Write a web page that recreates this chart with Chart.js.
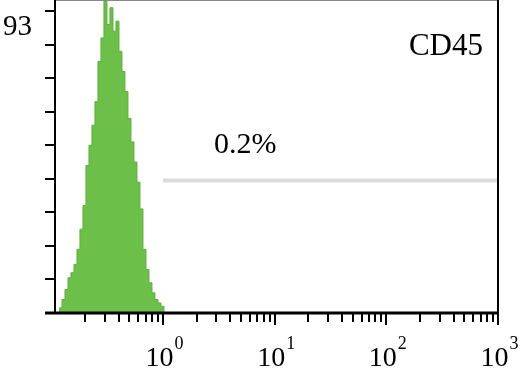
<!DOCTYPE html>
<html>
<head>
<meta charset="utf-8">
<script src="https://cdn.jsdelivr.net/npm/chart.js@4"></script>
<style>
html,body{margin:0;padding:0;background:#fff;}
canvas{display:block;}
</style>
</head>
<body>
<canvas id="c" width="521" height="379"></canvas>
<script>
// Histogram channels (fluorescence intensity, bin start) and counts
const channels = [0.1172,0.1247,0.1327,0.1412,0.1501,0.1597,0.1699,0.1807,0.1922,0.2045,0.2176,0.2314,0.2462,0.2619,0.2786,0.2964,0.3153,0.3354,0.3568,0.3796,0.4038,0.4296,0.4570,0.4861,0.5171,0.5501,0.5852,0.6225,0.6622,0.7045,0.7494,0.7972,0.8481,0.9022,0.9597,1.021];
const counts   = [1.5,4,7,10.5,12,14.5,19,25,32,44,50,56,63,75,82,93,86,91,84,87,78,72,66,58,51,45,39,31,19,13,9,6,4,3,2,0];
// Gate marker (positive region) and its percentage
const gateRange = [1, 1000];
const gateLevel = 39.5;
const gateLabel = "0.2%";
const markerName = "CD45";
const yMax = 93;
const yTicks = [0,10,20,30,40,50,60,70,80,90];
const xMajor = [1,10,100,1000];
const xMajorExp = ["0","1","2","3"];
const xMinor = [0.2,0.3,0.4,0.5,0.6,0.7,0.8,0.9,2,3,4,5,6,7,8,9,20,30,40,50,60,70,80,90,200,300,400,500,600,700,800,900];

const histData = channels.map((c,i)=>({x:c,y:counts[i]}));
const gateData = gateRange.map(v=>({x:v,y:gateLevel}));

const SERIF = '"Liberation Serif","DejaVu Serif",serif';

const deco = {
  id:'deco',
  afterDraw(chart){
    const ctx = chart.ctx, a = chart.chartArea;
    const xs = chart.scales.x, ys = chart.scales.y;
    ctx.save();
    // top border
    ctx.strokeStyle = '#888'; ctx.lineWidth = 1;
    ctx.beginPath(); ctx.moveTo(a.left, a.top-0.5); ctx.lineTo(a.right, a.top-0.5); ctx.stroke();
    ctx.strokeStyle = '#000';
    // right border
    ctx.lineWidth = 2;
    ctx.beginPath(); ctx.moveTo(a.right, a.top-1); ctx.lineTo(a.right, a.bottom); ctx.stroke();
    // left axis
    ctx.beginPath(); ctx.moveTo(a.left, a.top-1); ctx.lineTo(a.left, a.bottom); ctx.stroke();
    // y ticks
    yTicks.forEach(v=>{
      const y = Math.round(ys.getPixelForValue(v));
      ctx.beginPath(); ctx.moveTo(a.left-10, y); ctx.lineTo(a.left, y); ctx.stroke();
    });
    // bottom axis
    ctx.lineWidth = 3;
    ctx.beginPath(); ctx.moveTo(a.left-10, a.bottom); ctx.lineTo(a.right+1, a.bottom); ctx.stroke();
    // x ticks
    ctx.lineWidth = 2;
    xMinor.forEach(v=>{
      const x = Math.round(xs.getPixelForValue(v));
      ctx.beginPath(); ctx.moveTo(x, a.bottom); ctx.lineTo(x, a.bottom+9); ctx.stroke();
    });
    xMajor.forEach(v=>{
      const x = Math.round(xs.getPixelForValue(v));
      ctx.beginPath(); ctx.moveTo(x, a.bottom); ctx.lineTo(x, a.bottom+12); ctx.stroke();
    });
    // x labels 10^n
    ctx.fillStyle = '#000';
    ctx.textBaseline = 'alphabetic';
    xMajor.forEach((v,i)=>{
      const x = xs.getPixelForValue(v);
      ctx.font = '28px ' + SERIF;
      const w1 = ctx.measureText('10').width;
      ctx.font = '18px ' + SERIF;
      const w2 = ctx.measureText(xMajorExp[i]).width;
      const start = x - (w1+w2)/2 + 1;
      ctx.font = '28px ' + SERIF;
      ctx.textAlign = 'left';
      ctx.fillText('10', start, 366);
      ctx.font = '18px ' + SERIF;
      ctx.fillText(xMajorExp[i], start + w1 + 1, 349);
    });
    // y max label
    ctx.font = '29px ' + SERIF;
    ctx.textAlign = 'right';
    ctx.fillText(String(yMax), 32, 35);
    // marker name
    ctx.font = '31px ' + SERIF;
    ctx.textAlign = 'right';
    ctx.fillText(markerName, 483, 55);
    // gate percentage
    ctx.font = '30px ' + SERIF;
    ctx.textAlign = 'left';
    ctx.fillText(gateLabel, 214, 153);
    ctx.restore();
  }
};

new Chart(document.getElementById('c'), {
  type:'line',
  data:{
    datasets:[
      {
        data: gateData,
        borderColor:'#dcdcdc',
        borderWidth:4,
        pointRadius:0,
        fill:false
      },
      {
        data: histData,
        stepped:true,
        borderColor:'#5fae3e',
        borderWidth:1,
        backgroundColor:'#6cc04a',
        fill:'origin',
        pointRadius:0
      }
    ]
  },
  options:{
    responsive:false,
    animation:false,
    layout:{padding:{left:55,right:23,top:1,bottom:66}},
    plugins:{legend:{display:false},tooltip:{enabled:false}},
    scales:{
      x:{type:'logarithmic',min:0.108,max:1000,display:false},
      y:{type:'linear',min:0,max:yMax,display:false}
    }
  },
  plugins:[deco]
});
</script>
</body>
</html>
